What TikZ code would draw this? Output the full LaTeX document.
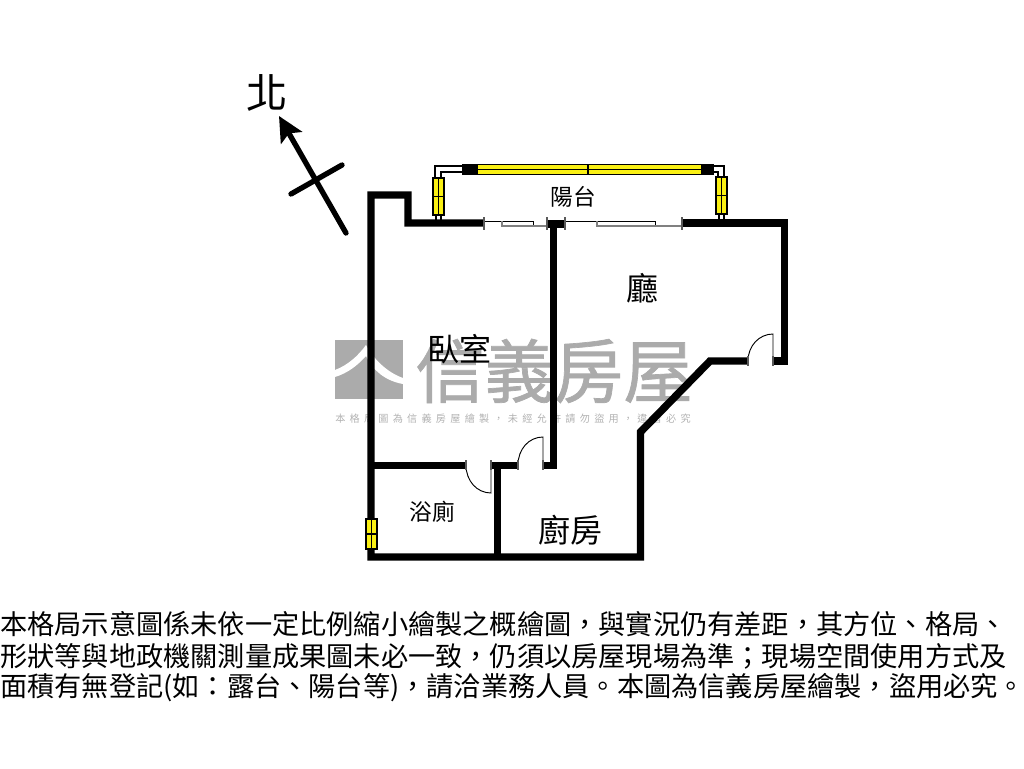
\documentclass[tikz,border=0pt]{standalone}
\usepackage{fontspec}
\setmainfont{Noto Sans CJK TC}
\newfontfamily\wmsmall[LetterSpace=42]{Noto Sans CJK TC}
\newfontfamily\wmlarge[FakeBold=1]{Noto Sans CJK TC}
\usetikzlibrary{arrows.meta,calc}
\newcommand{\clrwall}{black}
\newcommand{\clrmark}{black!33}
\newcommand{\clrsmall}{black!30}
\definecolor{winyellow}{RGB}{250,240,20}
\tikzset{
  wall/.style={draw=\clrwall, line width=5.6pt, line join=miter},
  doorline/.style={draw=black, line width=0.7pt},
  railline/.style={draw=black, line width=0.9pt},
  doortick/.style={draw=black!65, line width=1.5pt},
  slideblack/.style={draw=black, line width=0.75pt},
  slidegrey/.style={draw=black!50, line width=1pt},
  glass/.style={draw=black, line width=0.9pt, fill=winyellow},
  label/.style={inner sep=0pt, text=black},
  notes/.style={inner sep=0pt, anchor=west, font=\fontsize{20.4pt}{20.4pt}\selectfont},
}
% yellow window: left, top, right, bottom
\newcommand{\uprightwin}[4]{
  \draw[glass] (#1,#2) rectangle (#3,#4);
  \draw[glass] ({(#1+#3)/2},#2) -- ({(#1+#3)/2},#4);
  \draw[glass] (#1,{(#2+#4)/2}) -- (#3,{(#2+#4)/2});
}
\begin{document}
\begin{tikzpicture}[x=0.75pt,y=-0.75pt]
    \useasboundingbox (0,0) rectangle (1024,768);

    % watermark
    \fill[\clrmark] (335,340) rectangle (403,399);
    \fill[white] (335,370) .. controls (348,365) and (358,356) .. (366,345)
        .. controls (373,358) and (386,372) .. (403,378) -- (403,384)
        .. controls (386,381) and (373,371) .. (366,356)
        .. controls (358,365) and (348,373) .. (335,377) -- cycle;
    \node[inner sep=0pt, text=\clrmark, font=\wmlarge\fontsize{52pt}{52pt}\selectfont] (mark) at (554,371) {信義房屋};
    \node[inner sep=0pt, text=\clrsmall, font=\wmsmall\fontsize{7.6pt}{7.6pt}\selectfont] (marksmall) at (513,419) {本格局圖為信義房屋繪製，未經允許請勿盜用，違者必究};

    % walls
    \draw[wall] (484,223) -- (408,223) -- (408,195) -- (371,195) -- (371,557) -- (640.5,557) -- (640.5,432) -- (710,361) -- (748,361);
    \draw[wall] (773,361) -- (784.5,361) -- (784.5,223) -- (682,223);
    \draw[wall] (553.5,468) -- (553.5,224);
    \draw[wall] (547,224) -- (565,224);
    \draw[wall] (371,465.5) -- (466,465.5);
    \draw[wall] (491,465.5) -- (501,465.5);
    \draw[wall] (497.5,462) -- (497.5,557);
    \draw[wall] (497.5,465.5) -- (518,465.5);
    \draw[wall] (543,465.5) -- (557,465.5);

    % doors
    \draw[doorline] (491,465) -- (491,493) .. controls (477,493) and (466,481) .. (466,465);
    \draw[doorline] (543,465) -- (543,437) .. controls (529,437) and (518,449) .. (518,465);
    \draw[doorline] (773,361) -- (773,334) .. controls (759,334) and (748,346) .. (748,361);
    \foreach \tx/\ty in {466/465,491/465,518/465,543/465,748/361,773/361}
        \draw[doortick] (\tx,\ty-5) -- (\tx,\ty+5);

    % balcony sliding doors
    \draw[slideblack] (484,221) -- (533,221) -- (533,226);
    \draw[slidegrey] (502,221) -- (502,226) -- (547,226);
    \draw[slideblack] (565,221) -- (655,221) -- (655,226);
    \draw[slidegrey] (597,221) -- (597,226) -- (682,226);
    \foreach \tx in {484,547,565,682}
        \draw[doortick] (\tx,217) -- (\tx,230);

    % balcony frame
    \fill[black] (462,164) rectangle (477,175);
    \fill[black] (702,164) rectangle (714,175);
    \draw[glass] (477,164.5) rectangle (702,174.5);
    \draw[glass] (477,169.5) -- (702,169.5);
    \draw[glass] (588,164.5) -- (588,174.5);
    \draw[railline] (462,166) -- (435,166) -- (435,178);
    \draw[railline] (462,172) -- (441,172) -- (441,178);
    \draw[railline] (714,166) -- (724,166) -- (724,177);
    \draw[railline] (714,172) -- (718,172) -- (718,177);
    \draw[railline] (436,215) -- (436,220);
    \draw[railline] (441,215) -- (441,220);
    \draw[railline] (719,214) -- (719,220);
    \draw[railline] (724,214) -- (724,220);

    \uprightwin{433}{178}{444}{215}
    \uprightwin{716}{177}{727}{214}
    \uprightwin{366}{519}{377}{549}

    % north arrow
    \coordinate (tail) at (346,233);
    \coordinate (tip) at (279,116);
    \draw[line width=4pt, line cap=round, -{Stealth[length=18.75pt, width=18pt, inset=3.75pt]}] (tail) -- (tip);
    \draw[line width=4pt, line cap=round] (291,194) -- (342,165);

    % room labels
    \node[label, font=\fontsize{31pt}{31pt}\selectfont] (north) at (267,93) {北};
    \node[label, font=\fontsize{17pt}{17pt}\selectfont] (balcony) at (573,197) {陽台};
    \node[label, font=\fontsize{24pt}{24pt}\selectfont] (hall) at (642,288) {廳};
    \node[label, font=\fontsize{24pt}{24pt}\selectfont] (bedroom) at (459,349) {臥室};
    \node[label, font=\fontsize{17pt}{17pt}\selectfont] (bath) at (432,512) {浴廁};
    \node[label, font=\fontsize{24pt}{24pt}\selectfont] (kitchen) at (570,530) {廚房};

    % notes
    \node[notes] (noteone) at (0,624) {本格局示意圖係未依一定比例縮小繪製之概繪圖，與實況仍有差距，其方位、格局、};
    \node[notes] (notetwo) at (0,656) {形狀等與地政機關測量成果圖未必一致，仍須以房屋現場為準；現場空間使用方式及};
    \node[notes] (notethree) at (0,688) {面積有無登記(如：露台、陽台等)，請洽業務人員。本圖為信義房屋繪製，盜用必究。};
\end{tikzpicture}
\end{document}
